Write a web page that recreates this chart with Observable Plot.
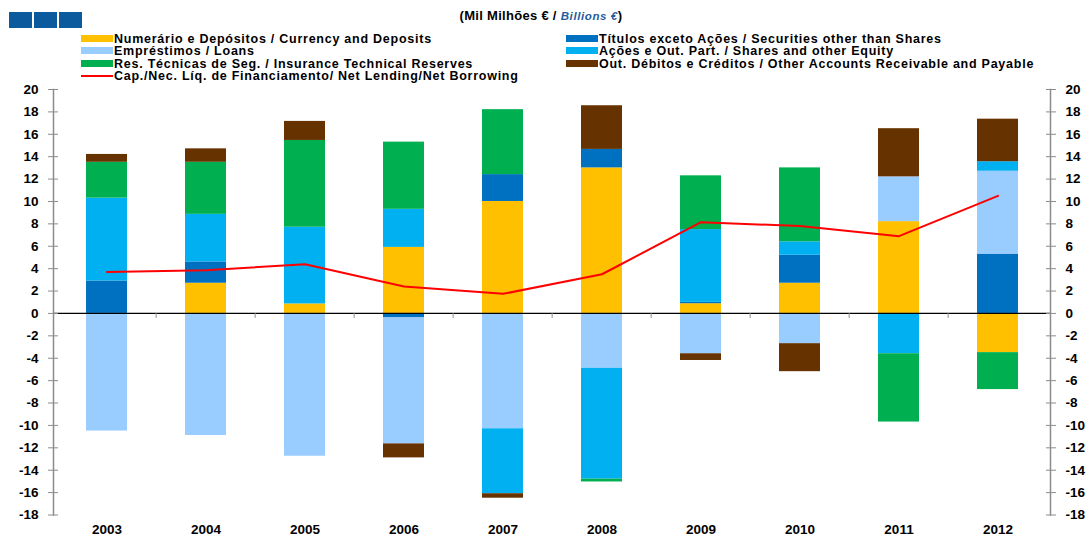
<!DOCTYPE html>
<html>
<head>
<meta charset="utf-8">
<script src="https://cdn.jsdelivr.net/npm/d3@7"></script>
<script src="https://cdn.jsdelivr.net/npm/@observablehq/plot@0.6"></script>
<style>
  body { margin: 0; background: #fff; font-family: "Liberation Sans", Arial, sans-serif; }
  #wrap { position: relative; width: 1088px; height: 535px; }
  #header { position: relative; width: 1088px; height: 80px; }
  .logo { position: absolute; top: 12px; width: 23px; height: 16px; background: #0B5A9E; }
  .title { position: absolute; top: 9px; left: 0; width: 1088px; text-align: center; font-weight: bold; font-size: 13px; line-height: 14px; color: #000; letter-spacing: 0.3px; }
  .title span { position: relative; left: -3px; }
  .title i { color: #1F5C9E; font-size: 11.5px; letter-spacing: 0.6px; }
  .leg { position: absolute; font-weight: bold; font-size: 12.5px; line-height: 12px; letter-spacing: 0.75px; white-space: nowrap; color: #000; }
  .sw { display: inline-block; width: 32px; height: 7px; vertical-align: 1px; margin-right: 1px; }
  .sw.line { height: 2px; vertical-align: 3px; }
  #chart svg { display: block; overflow: visible; }
</style>
</head>
<body>
<div id="wrap">
  <div id="header"></div>
  <div id="chart"></div>
</div>
<script>
// ---- data ----
const years = [2003, 2004, 2005, 2006, 2007, 2008, 2009, 2010, 2011, 2012];
const seriesNames = [
  "Numerário e Depósitos / Currency and Deposits",
  "Títulos exceto Ações / Securities other than Shares",
  "Empréstimos / Loans",
  "Ações e Out. Part. / Shares and other Equity",
  "Res. Técnicas de Seg. / Insurance Technical Reserves",
  "Out. Débitos e Créditos / Other Accounts Receivable and Payable"
];
const lineName = "Cap./Nec. Líq. de Financiamento/ Net Lending/Net Borrowing";
const seriesColors = ["#FFC000", "#0070C0", "#99CCFF", "#00B0F0", "#00B050", "#663300"];
const lineColor = "#FF0000";

const currency   = [0.0, 2.7, 0.85, 5.9, 10.0, 13.0, 0.87, 2.7, 8.2, -3.5];
const securities = [2.9, 1.9, 0.0, -0.4, 2.4, 1.65, 0.12, 2.5, 0.0, 5.3];
const loans      = [-10.5, -10.9, -12.75, -11.25, -10.3, -4.9, -3.6, -2.7, 4.0, 7.4];
const shares     = [7.4, 4.25, 6.85, 3.4, -5.8, -9.9, 6.5, 1.2, -3.6, 0.85];
const insurance  = [3.2, 4.65, 7.75, 6.0, 5.8, -0.25, 4.8, 6.6, -6.1, -3.3];
const other      = [0.7, 1.2, 1.7, -1.25, -0.4, 3.9, -0.6, -2.5, 4.3, 3.8];
const netLending = [3.7, 3.85, 4.4, 2.4, 1.75, 3.5, 8.15, 7.8, 6.9, 10.5];

const yTicks = d3.range(-18, 21, 2);
const titleMain = "(Mil Milhões € / ";
const titleItalic = "Billions  €";
const titleEnd = ")";

// ---- header (logo, title, legend) ----
const header = document.getElementById("header");
[9, 34, 59].forEach(l => {
  const d = document.createElement("div");
  d.className = "logo"; d.style.left = l + "px"; header.appendChild(d);
});
const t = document.createElement("div");
t.className = "title";
t.innerHTML = `<span>${titleMain}<i>${titleItalic}</i>${titleEnd}</span>`;
header.appendChild(t);

const legendItems = [
  {name: seriesNames[0], color: seriesColors[0], col: 0, row: 0},
  {name: seriesNames[2], color: seriesColors[2], col: 0, row: 1},
  {name: seriesNames[4], color: seriesColors[4], col: 0, row: 2},
  {name: lineName, color: lineColor, col: 0, row: 3, line: true},
  {name: seriesNames[1], color: seriesColors[1], col: 1, row: 0},
  {name: seriesNames[3], color: seriesColors[3], col: 1, row: 1},
  {name: seriesNames[5], color: seriesColors[5], col: 1, row: 2}
];
const colX = [81, 566];
legendItems.forEach(it => {
  const d = document.createElement("div");
  d.className = "leg";
  d.style.left = colX[it.col] + "px";
  d.style.top = (33 + it.row * 12.3) + "px";
  d.innerHTML = `<span class="sw${it.line ? " line" : ""}" style="background:${it.color}"></span>${it.name}`;
  header.appendChild(d);
});

// ---- chart ----
const data = [];
const seriesValues = [currency, securities, loans, shares, insurance, other];
seriesNames.forEach((s, i) => years.forEach((y, j) => data.push({year: y, series: s, value: seriesValues[i][j]})));
const lineData = years.map((y, j) => ({year: y, value: netLending[j]}));

const W = 1088, H = 455, ML = 53, MR = 38;
const step = (W - ML - MR) / years.length;
const axisGray = "#8c8c8c";
const font = "Liberation Sans, Arial, sans-serif";

const chart = Plot.plot({
  width: W,
  height: H,
  marginLeft: ML,
  marginRight: MR,
  marginTop: 9,
  marginBottom: 20.5,
  style: {fontFamily: font, fontSize: "13.5px", fontWeight: "bold", color: "#000", background: "#fff"},
  x: {type: "band", domain: years, padding: 0, label: null},
  y: {domain: [-18, 20], label: null},
  color: {domain: seriesNames, range: seriesColors},
  marks: [
    Plot.barY(data, {x: "year", y: "value", fill: "series", insetLeft: 29, insetRight: 29}),
    Plot.ruleY([0], {stroke: "#000", strokeWidth: 1.2}),
    Plot.ruleX(years.slice(1), {x: d => d, y1: 0, y2: 0, dx: -step / 2, insetBottom: -5, stroke: axisGray}),
    Plot.line(lineData, {x: "year", y: "value", stroke: lineColor, strokeWidth: 2}),
    Plot.frame({anchor: "left", stroke: axisGray, strokeWidth: 1.5}),
    Plot.frame({anchor: "right", stroke: axisGray, strokeWidth: 1.5}),
    Plot.axisY(yTicks, {anchor: "left", tickSize: 0, tickPadding: 15, tickFormat: d => d, fill: "#000"}),
    Plot.axisY(yTicks, {anchor: "left", tickSize: 10, dx: 5, tickFormat: () => "", stroke: axisGray}),
    Plot.axisY(yTicks, {anchor: "right", tickSize: 0, tickPadding: 15, tickFormat: d => d, fill: "#000"}),
    Plot.axisY(yTicks, {anchor: "right", tickSize: 10, dx: -5, tickFormat: () => "", stroke: axisGray}),
    Plot.axisX({anchor: "bottom", tickSize: 0, tickPadding: 9, tickFormat: d => String(d), fontSize: 13.5})
  ]
});
document.getElementById("chart").appendChild(chart);
</script>
</body>
</html>
